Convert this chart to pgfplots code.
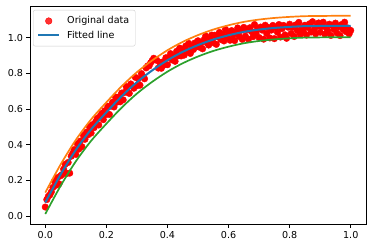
\documentclass[border=0pt]{standalone}
\usepackage{fontspec}
\setmainfont{DejaVu Sans}
\usepackage{pgfplots}
\usepackage{pgfplotstable}
\pgfplotsset{compat=1.18}
\definecolor{mplblue}{HTML}{1F77B4}
\definecolor{mplorange}{HTML}{FF7F0E}
\definecolor{mplgreen}{HTML}{2CA02C}
\definecolor{mplred}{HTML}{FF0000}

\pgfplotstableread{
x y
0.000 0.050
0.005 0.092
0.010 0.110
0.015 0.118
0.020 0.135
0.025 0.160
0.030 0.195
0.035 0.172
0.040 0.215
0.045 0.180
0.050 0.225
0.055 0.232
0.060 0.262
0.065 0.290
0.070 0.238
0.075 0.300
0.080 0.240
0.085 0.335
0.090 0.352
0.095 0.372
0.100 0.345
0.105 0.405
0.110 0.375
0.115 0.420
0.120 0.388
0.125 0.452
0.130 0.430
0.135 0.470
0.140 0.455
0.145 0.500
0.150 0.465
0.155 0.512
0.160 0.495
0.165 0.528
0.170 0.548
0.175 0.510
0.180 0.560
0.185 0.575
0.190 0.540
0.195 0.590
0.200 0.569
0.205 0.615
0.210 0.569
0.215 0.616
0.220 0.637
0.225 0.611
0.230 0.667
0.235 0.638
0.240 0.667
0.245 0.640
0.250 0.689
0.255 0.651
0.260 0.693
0.265 0.725
0.270 0.693
0.275 0.687
0.280 0.740
0.285 0.730
0.290 0.716
0.295 0.777
0.300 0.730
0.305 0.769
0.310 0.733
0.315 0.798
0.320 0.781
0.325 0.769
0.330 0.830
0.335 0.841
0.340 0.841
0.345 0.859
0.350 0.871
0.355 0.884
0.360 0.875
0.365 0.873
0.370 0.829
0.375 0.860
0.380 0.828
0.385 0.864
0.390 0.847
0.395 0.887
0.400 0.848
0.405 0.888
0.410 0.910
0.415 0.875
0.420 0.897
0.425 0.867
0.430 0.923
0.435 0.898
0.440 0.941
0.445 0.897
0.450 0.932
0.455 0.902
0.460 0.953
0.465 0.926
0.470 0.967
0.475 0.911
0.480 0.951
0.485 0.933
0.490 0.970
0.495 0.948
0.500 0.982
0.505 0.946
0.510 0.969
0.515 0.937
0.520 0.988
0.525 1.009
0.530 0.969
0.535 0.958
0.540 0.995
0.545 1.014
0.550 0.971
0.555 1.013
0.560 0.962
0.565 1.004
0.570 1.029
0.575 0.989
0.580 1.018
0.585 0.981
0.590 1.046
0.595 1.006
0.600 1.028
0.605 0.985
0.610 1.039
0.615 1.014
0.620 0.983
0.625 1.031
0.630 1.054
0.635 1.006
0.640 1.040
0.645 0.990
0.650 1.057
0.655 1.008
0.660 1.045
0.665 0.991
0.670 1.055
0.675 1.034
0.680 1.005
0.685 1.073
0.690 1.025
0.695 1.049
0.700 1.000
0.705 1.059
0.710 1.042
0.715 0.991
0.720 1.069
0.725 1.023
0.730 1.057
0.735 0.998
0.740 1.042
0.745 1.068
0.750 0.994
0.755 1.058
0.760 1.030
0.765 1.073
0.770 1.003
0.775 1.050
0.780 1.068
0.785 1.015
0.790 0.996
0.795 1.058
0.800 1.075
0.805 1.023
0.810 1.058
0.815 1.006
0.820 1.071
0.825 1.039
0.830 1.085
0.835 1.018
0.840 1.054
0.845 1.034
0.850 1.069
0.855 1.014
0.860 1.057
0.865 1.077
0.870 1.031
0.875 1.089
0.880 1.044
0.885 1.021
0.890 1.064
0.895 1.082
0.900 1.030
0.905 1.062
0.910 1.086
0.915 1.020
0.920 1.055
0.925 1.038
0.930 1.075
0.935 1.012
0.940 1.068
0.945 1.046
0.950 1.081
0.955 1.026
0.960 1.061
0.965 1.011
0.970 1.073
0.975 1.045
0.980 1.086
0.985 1.033
0.990 1.054
0.995 1.021
1.000 1.040
}\datatable

\pgfplotstableread{
x blue orange green
0.00 0.075 0.131 0.011
0.05 0.232 0.288 0.168
0.10 0.370 0.426 0.306
0.15 0.485 0.541 0.421
0.20 0.581 0.637 0.517
0.25 0.671 0.727 0.607
0.30 0.750 0.806 0.686
0.35 0.816 0.872 0.752
0.40 0.873 0.929 0.809
0.45 0.920 0.976 0.856
0.50 0.958 1.014 0.894
0.55 0.989 1.045 0.925
0.60 1.013 1.069 0.949
0.65 1.032 1.088 0.968
0.70 1.045 1.101 0.981
0.75 1.054 1.110 0.990
0.80 1.060 1.116 0.996
0.85 1.064 1.120 1.000
0.90 1.065 1.121 1.001
0.95 1.066 1.122 1.002
1.00 1.066 1.122 1.002
}\curvetable

\pgfplotsset{
  common/.style={
    scale only axis,
    width=336bp, height=218bp,
    xmin=-0.05, xmax=1.05,
    ymin=-0.045, ymax=1.177,
  }
}

\begin{document}
\begin{tikzpicture}
\begin{axis}[
  common,
  xtick={0,0.2,0.4,0.6,0.8,1.0},
  ytick={0,0.2,0.4,0.6,0.8,1.0},
  tick pos=left,
  tick align=outside,
  major tick length=3.5bp,
  every tick/.style={black, line width=0.8bp},
  axis line style={black, line width=0.8bp},
  xticklabel style={font=\fontsize{9.6}{11}\selectfont, text=black},
  yticklabel style={font=\fontsize{9.6}{11}\selectfont, text=black},
  /pgf/number format/assume math mode=true,
  /pgf/number format/.cd, fixed, fixed zerofill, precision=1, /pgfplots/.cd,
]
\addplot[only marks, mark=*, mark size=3.3bp, mplred, mark options={draw=mplred, fill=mplred}] table[x=x, y=y] {\datatable};
\end{axis}
\begin{axis}[
  common,
  hide axis,
  legend cell align=left,
  legend image code/.code={\draw[mark repeat=2,mark phase=2,#1] plot coordinates {(0bp,0bp) (10.5bp,0bp) (21bp,0bp)};},
  legend style={at={(0.009,0.982)}, anchor=north west, draw=black!20, rounded corners=2pt,
    fill=white, fill opacity=0.8, text opacity=1,
    font=\fontsize{9.6}{11}\selectfont, inner xsep=4bp, inner ysep=4.5bp,
    nodes={inner sep=2bp}, row sep=1.5bp, column sep=5bp},
]
\addlegendimage{only marks, mark=*, mark size=3.3bp, mplred, mark options={draw=mplred, fill=mplred}}
\addlegendentry{Original data}
\addplot[mplblue, line width=2bp, smooth, no marks] table[x=x, y=blue] {\curvetable};
\addlegendentry{Fitted line}
\addplot[mplorange, line width=1.7bp, smooth, no marks, forget plot] table[x=x, y=orange] {\curvetable};
\addplot[mplgreen, line width=1.7bp, smooth, no marks, forget plot] table[x=x, y=green] {\curvetable};
\end{axis}
\pgfresetboundingbox
\path[use as bounding box] (-30bp,-24bp) rectangle (342bp,224bp);
\end{tikzpicture}
\end{document}
